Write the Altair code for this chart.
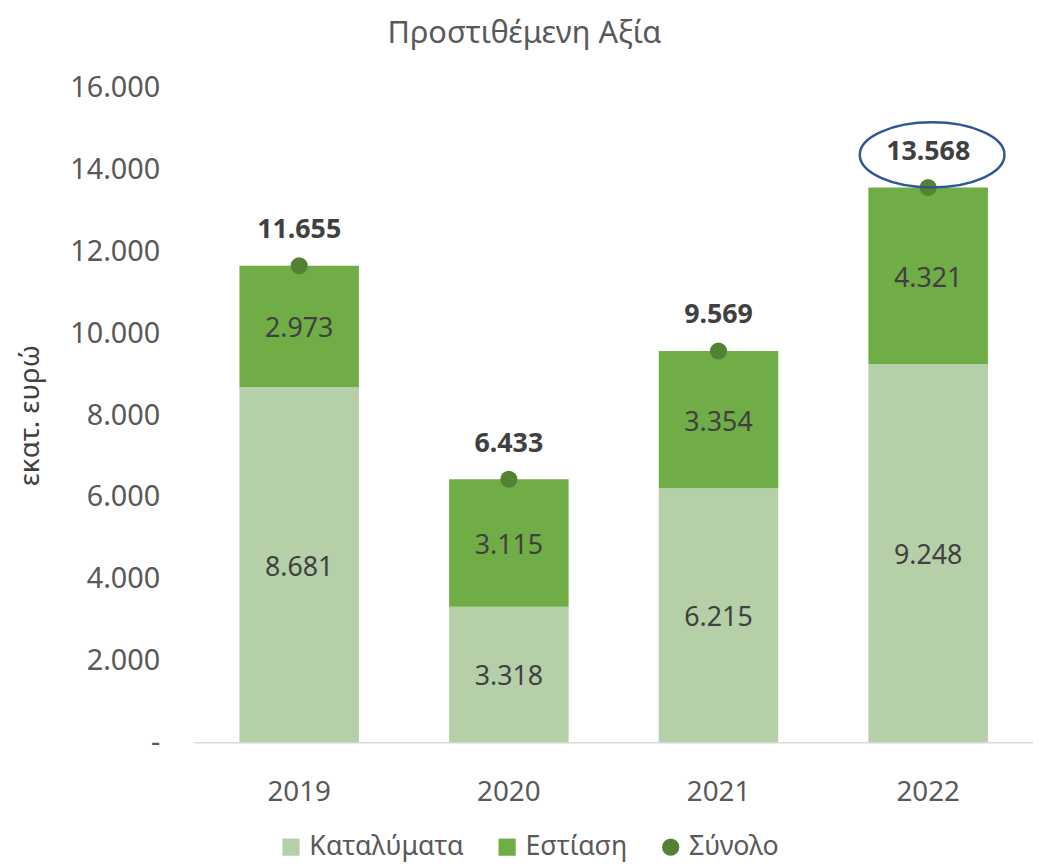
import altair as alt
import pandas as pd

years = ["2019", "2020", "2021", "2022"]
accommodation = [8681, 3318, 6215, 9248]
food = [2973, 3115, 3354, 4321]
total = [11655, 6433, 9569, 13568]
series = ["Καταλύματα", "Εστίαση", "Σύνολο"]
colors = ["#B5D0A9", "#70AD47", "#548235"]
shapes = ["square", "square", "circle"]
sizes = [300, 300, 110]
highlight_year = "2022"

FONT = "Noto Sans"


def fmt(v):
    return f"{v:,}".replace(",", ".")


rows = []
for y, a, f in zip(years, accommodation, food):
    rows.append({"year": y, "series": series[0], "start": 0, "end": a, "mid": a / 2, "label": fmt(a)})
    rows.append({"year": y, "series": series[1], "start": a, "end": a + f, "mid": a + f / 2, "label": fmt(f)})
seg = pd.DataFrame(rows)
tot = pd.DataFrame({"year": years, "series": series[2], "total": total, "label": [fmt(t) for t in total]})
hl = tot[tot["year"] == highlight_year]

xenc = alt.X(
    "year:N",
    title=None,
    scale=alt.Scale(paddingInner=0.43, paddingOuter=0.215),
    axis=alt.Axis(
        labelAngle=0, labelFont=FONT, labelFontSize=28, labelColor="#595959",
        labelPadding=37, ticks=False, domainColor="#D9D9D9", domainWidth=1.5, grid=False,
    ),
)
yscale = alt.Scale(domain=[0, 16000], nice=False)
legend = alt.Legend(
    orient="none", direction="horizontal", legendX=84, legendY=752,
    labelFont=FONT, labelFontSize=27, labelColor="#595959", labelOffset=5,
    labelLimit=400, columnPadding=30, symbolStrokeWidth=0,
)
color = alt.Color("series:N", scale=alt.Scale(domain=series, range=colors), title=None, legend=legend)
shape = alt.Shape("series:N", scale=alt.Scale(domain=series, range=shapes), title=None, legend=legend)
size = alt.Size("series:N", scale=alt.Scale(domain=series, range=sizes), title=None, legend=legend)

bars = alt.Chart(seg).mark_bar().encode(
    x=xenc,
    y=alt.Y(
        "start:Q", scale=yscale, title="εκατ. ευρώ",
        axis=alt.Axis(
            values=list(range(0, 16001, 2000)), grid=False, domain=False, ticks=False,
            labelFont=FONT, labelFontSize=29, labelColor="#595959", labelPadding=35,
            labelExpr="datum.value == 0 ? '-' : replace(datum.label, ',', '.')",
            titleFont=FONT, titleFontSize=28, titleFontWeight="normal", titleColor="#404040",
            titlePadding=26,
        ),
    ),
    y2="end:Q",
    color=color,
)

seg_text = alt.Chart(seg).mark_text(
    font=FONT, fontSize=27, color="#404040", baseline="middle", dy=3
).encode(x="year:N", y=alt.Y("mid:Q", scale=yscale), text="label:N")

points = alt.Chart(tot).mark_point(filled=True, opacity=1).encode(
    x="year:N", y=alt.Y("total:Q", scale=yscale), color=color, shape=shape, size=size
)

tot_text = alt.Chart(tot).mark_text(
    font=FONT, fontSize=27, fontWeight="bold", color="#404040", baseline="middle", dy=-36
).encode(x="year:N", y=alt.Y("total:Q", scale=yscale), text="label:N")

ellipse = alt.Chart(hl).mark_point(
    shape="M-1,0 A1,0.45 0 1,1 1,0 A1,0.45 0 1,1 -1,0 Z",
    size=146 * 146, filled=False, stroke="#2F5597", strokeWidth=2.5, opacity=1,
    yOffset=-33, xOffset=4,
).encode(x="year:N", y=alt.Y("total:Q", scale=yscale))

chart = alt.layer(bars, seg_text, points, tot_text, ellipse).properties(
    width=846,
    height=660,
    autosize=alt.AutoSizeParams(type="none"),
    padding={"left": 188, "top": 77, "right": 0, "bottom": 122},
    title=alt.TitleParams(
        "Προστιθέμενη Αξία", font=FONT, fontSize=31, fontWeight="normal", color="#595959",
        anchor="middle", offset=24, dx=-90,
    ),
).configure_view(stroke=None)

chart.save("out.html", embed_options={"renderer": "svg", "actions": False})
